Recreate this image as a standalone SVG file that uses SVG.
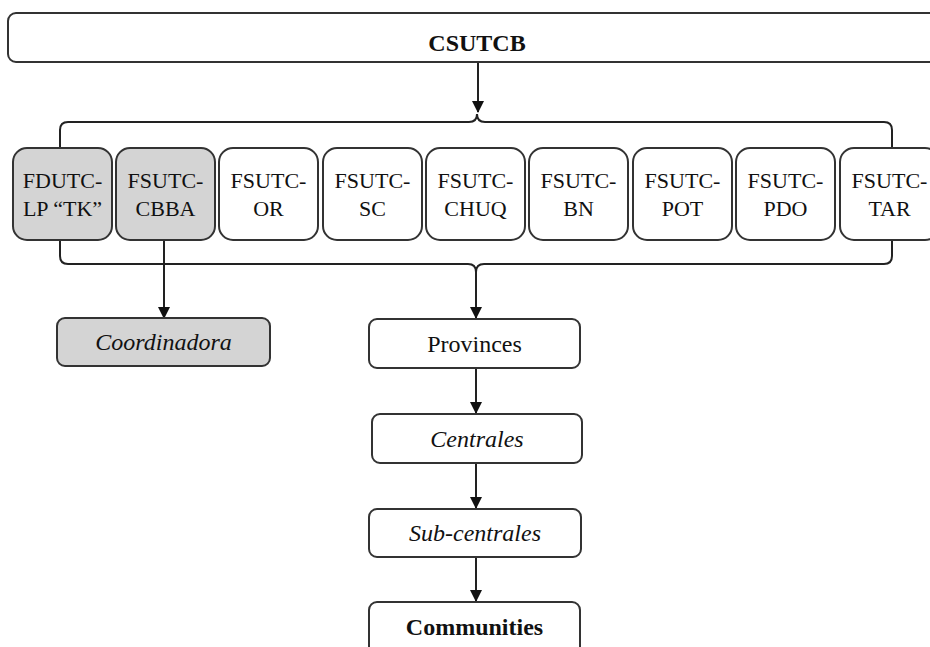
<svg xmlns="http://www.w3.org/2000/svg" width="930" height="647" viewBox="0 0 930 647">
<defs>
<marker id="arr" markerWidth="12" markerHeight="12" refX="11" refY="6" orient="auto" markerUnits="userSpaceOnUse">
<path d="M0,0 L12,6 L0,12 Z" fill="#111"/>
</marker>
<style>
.box{fill:#fff;stroke:#333;stroke-width:2}
.grey{fill:#d4d4d4}
.t{font-family:"Liberation Serif","Times New Roman",serif;font-size:22px;fill:#111;text-anchor:middle}
.big{font-size:24px}
.it{font-style:italic}
.b{font-weight:bold}
.c{fill:none;stroke:#222;stroke-width:2}
</style>
</defs>
<rect width="930" height="647" fill="#fff"/>
<g id="connectors">
<path class="c" d="M60,148 V130 Q60,122 68,122 H469 Q477,122 477,114 Q477,122 485,122 H884 Q892,122 892,130 V148"/>
<path class="c" d="M60,240 V256 Q60,264 68,264 H468 Q476,264 476,272 Q476,264 484,264 H884 Q892,264 892,256 V240"/>
<line class="c" x1="478" y1="62" x2="478" y2="112" marker-end="url(#arr)"/>
<line class="c" x1="476" y1="272" x2="476" y2="318" marker-end="url(#arr)"/>
<line class="c" x1="164" y1="240" x2="164" y2="318" marker-end="url(#arr)"/>
<line class="c" x1="476" y1="368" x2="476" y2="413" marker-end="url(#arr)"/>
<line class="c" x1="476" y1="463" x2="476" y2="508" marker-end="url(#arr)"/>
<line class="c" x1="476" y1="557" x2="476" y2="601" marker-end="url(#arr)"/>
</g>
<g id="csutcb"><rect class="box" x="8" y="13" width="940" height="49" rx="8"/><text class="t big b" x="477" y="51">CSUTCB</text></g>
<g id="fdutc-lp"><rect class="box grey" x="13" y="148" width="99" height="92" rx="14"/><text class="t" x="62.5" y="188">FDUTC-</text><text class="t" x="62.5" y="216">LP “TK”</text></g>
<g id="fsutc-cbba"><rect class="box grey" x="116" y="148" width="99" height="92" rx="14"/><text class="t" x="165.5" y="188">FSUTC-</text><text class="t" x="165.5" y="216">CBBA</text></g>
<g id="fsutc-or"><rect class="box" x="219" y="148" width="99" height="92" rx="14"/><text class="t" x="268.5" y="188">FSUTC-</text><text class="t" x="268.5" y="216">OR</text></g>
<g id="fsutc-sc"><rect class="box" x="323" y="148" width="99" height="92" rx="14"/><text class="t" x="372.5" y="188">FSUTC-</text><text class="t" x="372.5" y="216">SC</text></g>
<g id="fsutc-chuq"><rect class="box" x="426" y="148" width="99" height="92" rx="14"/><text class="t" x="475.5" y="188">FSUTC-</text><text class="t" x="475.5" y="216">CHUQ</text></g>
<g id="fsutc-bn"><rect class="box" x="529" y="148" width="99" height="92" rx="14"/><text class="t" x="578.5" y="188">FSUTC-</text><text class="t" x="578.5" y="216">BN</text></g>
<g id="fsutc-pot"><rect class="box" x="633" y="148" width="99" height="92" rx="14"/><text class="t" x="682.5" y="188">FSUTC-</text><text class="t" x="682.5" y="216">POT</text></g>
<g id="fsutc-pdo"><rect class="box" x="736" y="148" width="99" height="92" rx="14"/><text class="t" x="785.5" y="188">FSUTC-</text><text class="t" x="785.5" y="216">PDO</text></g>
<g id="fsutc-tar"><rect class="box" x="840" y="148" width="99" height="92" rx="14"/><text class="t" x="889.5" y="188">FSUTC-</text><text class="t" x="889.5" y="216">TAR</text></g>
<g id="coordinadora"><rect class="box grey" x="57" y="318" width="213" height="48" rx="8"/><text class="t big it" x="163.5" y="350">Coordinadora</text></g>
<g id="provinces"><rect class="box" x="369" y="319" width="211" height="49" rx="8"/><text class="t big" x="474.5" y="352">Provinces</text></g>
<g id="centrales"><rect class="box" x="372" y="414" width="210" height="49" rx="8"/><text class="t big it" x="477" y="447">Centrales</text></g>
<g id="sub-centrales"><rect class="box" x="369" y="509" width="212" height="48" rx="8"/><text class="t big it" x="475" y="541">Sub-centrales</text></g>
<g id="communities"><rect class="box" x="369" y="602" width="211" height="60" rx="8"/><text class="t big b" x="474.5" y="635">Communities</text></g>
</svg>
